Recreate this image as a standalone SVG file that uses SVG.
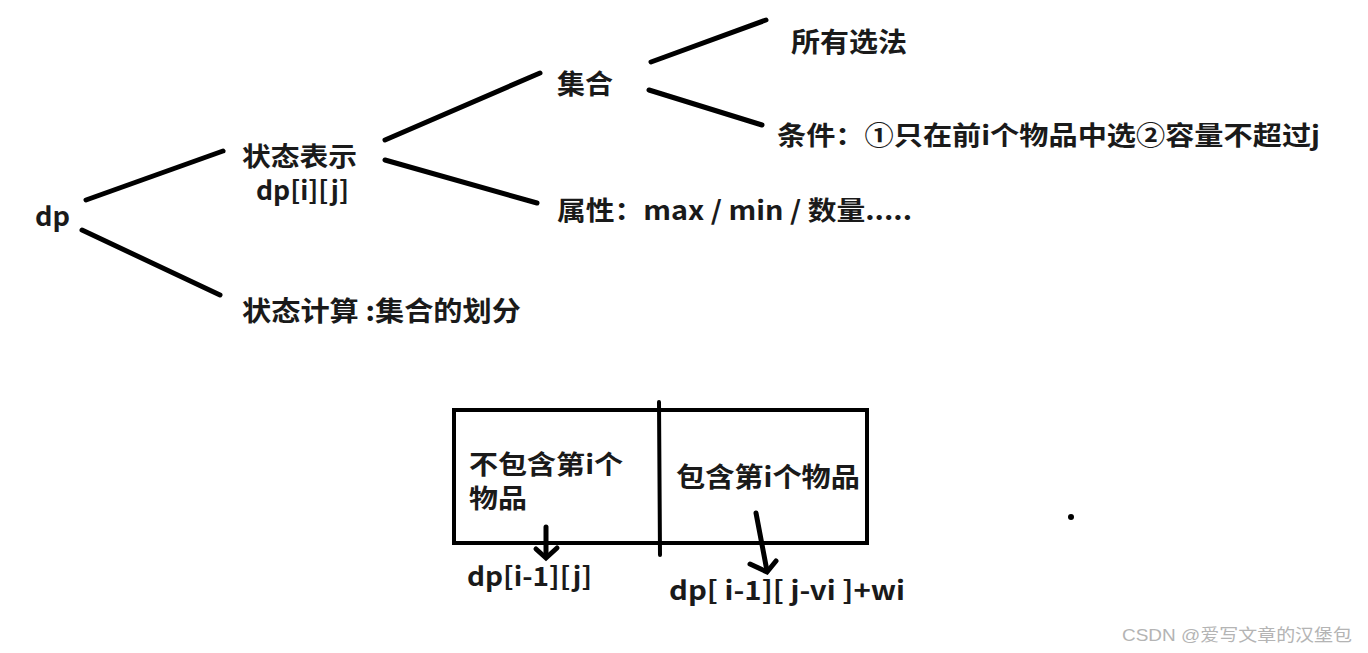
<svg xmlns="http://www.w3.org/2000/svg" width="1368" height="653" viewBox="0 0 1368 653">
<style>
.t{font-family:"Noto Sans CJK SC","Noto Sans",sans-serif;font-weight:bold;fill:#1a1a1a}
.ln{stroke:#000;stroke-width:5;stroke-linecap:round;fill:none}
.wm{font-family:"Liberation Sans","Noto Sans CJK SC",sans-serif;fill:#b4b4b4;font-size:17px}
</style>
<rect width="1368" height="653" fill="#fff"/>
<g id="connectors">
<line class="ln" x1="86" y1="200" x2="223" y2="151"/>
<line class="ln" x1="82" y1="230" x2="220" y2="295"/>
<line class="ln" x1="385" y1="140" x2="540" y2="73"/>
<line class="ln" x1="385" y1="160" x2="537" y2="203"/>
<line class="ln" x1="651" y1="62" x2="766" y2="20"/>
<line class="ln" x1="649" y1="90" x2="762" y2="125"/>
<line class="ln" x1="546" y1="527" x2="546" y2="556"/>
<polyline class="ln" points="536,549 546,558 557,548"/>
<line class="ln" x1="756" y1="513" x2="767" y2="571"/>
<polyline class="ln" points="750,564 767,572 776,561"/>
</g>
<g id="dp"><text class="t" x="35" y="226" font-size="26" textLength="35" lengthAdjust="spacingAndGlyphs">dp</text></g>
<g id="state-repr">
<text class="t" x="242" y="166" font-size="26" textLength="115" lengthAdjust="spacingAndGlyphs">状态表示</text>
<text class="t" x="256" y="200" font-size="26" textLength="93" lengthAdjust="spacingAndGlyphs">dp[i][j]</text>
</g>
<g id="state-calc"><text class="t" x="242" y="321" font-size="27" textLength="279" lengthAdjust="spacingAndGlyphs">状态计算 :集合的划分</text></g>
<g id="set"><text class="t" x="557" y="94" font-size="27" textLength="56" lengthAdjust="spacingAndGlyphs">集合</text></g>
<g id="all"><text class="t" x="791" y="52" font-size="27" textLength="116" lengthAdjust="spacingAndGlyphs">所有选法</text></g>
<g id="cond"><text class="t" x="777" y="145" font-size="26" textLength="543" lengthAdjust="spacingAndGlyphs">条件：①只在前i个物品中选②容量不超过j</text></g>
<g id="attr"><text class="t" x="557" y="220" font-size="26" textLength="355" lengthAdjust="spacingAndGlyphs">属性：max / min / 数量.....</text></g>
<g id="box">
<rect x="454" y="410" width="413" height="133" fill="none" stroke="#000" stroke-width="4"/>
<line x1="659" y1="402" x2="660" y2="555" stroke="#000" stroke-width="4" stroke-linecap="round"/>
</g>
<g id="not-include">
<text class="t" x="469" y="474" font-size="26" textLength="154" lengthAdjust="spacingAndGlyphs">不包含第i个</text>
<text class="t" x="469" y="508" font-size="26" textLength="58" lengthAdjust="spacingAndGlyphs">物品</text>
</g>
<g id="include"><text class="t" x="676" y="487" font-size="27" textLength="184" lengthAdjust="spacingAndGlyphs">包含第i个物品</text></g>
<g id="res1"><text class="t" x="467" y="586" font-size="26" textLength="125" lengthAdjust="spacingAndGlyphs">dp[i-1][j]</text></g>
<g id="res2"><text class="t" x="669" y="600" font-size="26" textLength="236" lengthAdjust="spacingAndGlyphs">dp[ i-1][ j-vi ]+wi</text></g>
<circle cx="1071" cy="517" r="3" fill="#000"/>
<text class="wm" x="1122" y="641" textLength="230" lengthAdjust="spacingAndGlyphs">CSDN @爱写文章的汉堡包</text>
</svg>
